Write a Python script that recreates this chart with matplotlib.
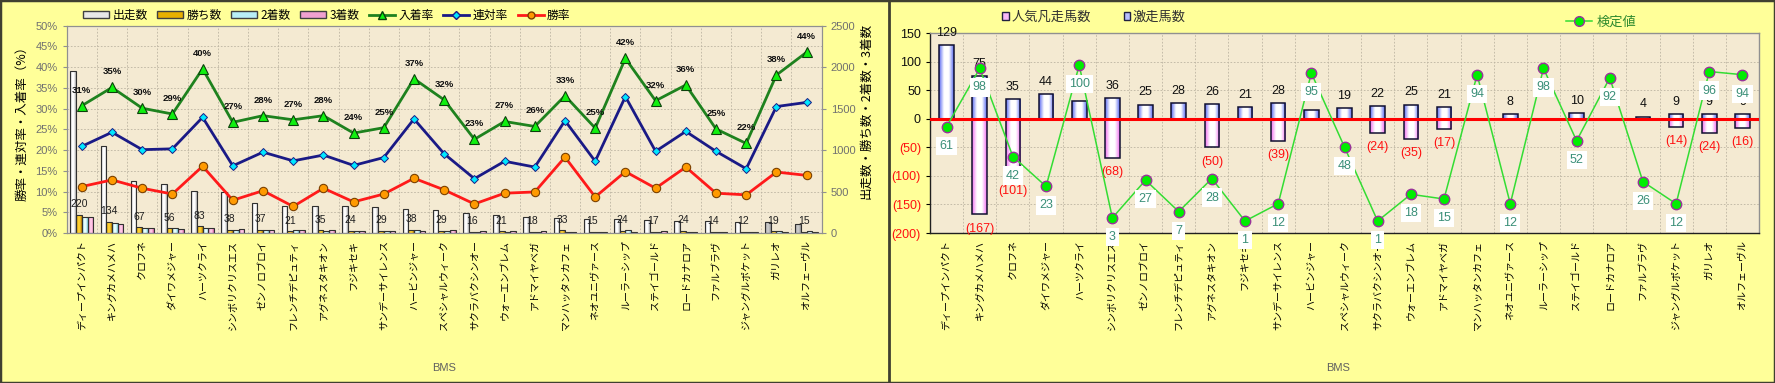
import numpy as np
import matplotlib
matplotlib.use('Agg')
import matplotlib.pyplot as plt
from matplotlib.lines import Line2D
from matplotlib.patches import Patch, Rectangle
from matplotlib.colors import LinearSegmentedColormap

plt.rcParams['font.family'] = ['Noto Sans CJK JP', 'DejaVu Sans']

# ---------------- data ----------------
sires = ['ディープインパクト', 'キングカメハメハ', 'クロフネ', 'ダイワメジャー', 'ハーツクライ',
         'シンボリクリスエス', 'ゼンノロブロイ', 'フレンチデピュティ', 'アグネスタキオン', 'フジキセキ',
         'サンデーサイレンス', 'ハービンジャー', 'スペシャルウィーク', 'サクラバクシンオー', 'ウォーエンブレム',
         'アドマイヤベガ', 'マンハッタンカフェ', 'ネオユニヴァース', 'ルーラーシップ', 'ステイゴールド',
         'ロードカナロア', 'ファルブラヴ', 'ジャングルポケット', 'ガリレオ', 'オルフェーヴル']

runs = [1950, 1055, 622, 594, 510, 490, 361, 325, 325, 325, 309, 289, 277, 241, 221,
        193, 180, 173, 165, 160, 150, 150, 128, 129, 108]
wins = [220, 134, 67, 56, 83, 38, 37, 21, 35, 24, 29, 38, 29, 16, 21,
        18, 33, 15, 24, 17, 24, 14, 12, 19, 15]
seconds = [189, 121, 58, 65, 59, 41, 34, 35, 26, 29, 27, 42, 24, 16, 17,
           13, 16, 15, 31, 15, 13, 16, 8, 20, 19]
thirds = [191, 114, 62, 50, 60, 51, 32, 32, 31, 25, 22, 28, 36, 23, 21,
          19, 11, 14, 15, 20, 17, 8, 8, 10, 13]
place_rate = [30.7, 35.1, 30.1, 28.7, 39.6, 26.7, 28.3, 27.3, 28.3, 24.1, 25.4, 37.2, 32.1,
              22.6, 26.9, 25.7, 33.1, 25.3, 42.1, 31.9, 35.7, 25.1, 21.6, 38.1, 43.6]
quinella_rate = [20.9, 24.3, 20.1, 20.3, 27.9, 16.2, 19.5, 17.4, 18.8, 16.3, 18.2, 27.5, 19.1,
                 13.1, 17.3, 15.9, 27.1, 17.3, 32.9, 19.7, 24.5, 19.7, 15.5, 30.5, 31.5]
win_rate = [11.2, 12.8, 10.8, 9.4, 16.1, 7.9, 10.2, 6.4, 10.8, 7.5, 9.4, 13.2, 10.4,
            7.0, 9.6, 9.9, 18.3, 8.7, 14.8, 10.8, 15.9, 9.6, 9.2, 14.7, 13.9]

gekiso = [129, 75, 35, 44, 31, 36, 25, 28, 26, 21, 28, 16, 19, 22, 25, 21, 0, 8, 0, 10, 0, 4, 9, 9, 9]
bonso = [0, 167, 101, 0, 0, 68, 0, 0, 50, 0, 39, 0, 0, 24, 35, 17, 0, 0, 0, 0, 0, 0, 14, 24, 16]
kentei = [61, 98, 42, 23, 100, 3, 27, 7, 28, 1, 12, 95, 48, 1, 18, 15, 94, 12, 98, 52, 92, 26, 12, 96, 94]

# ---------------- helpers ----------------
def grad_fill(ax, bars, edge, mid, zorder=1.9):
    cmap = LinearSegmentedColormap.from_list('g', [edge, mid, mid, edge], N=128)
    grad = np.linspace(0, 1, 64).reshape(1, -1)
    for b in bars:
        x0, y0 = b.get_x(), b.get_y()
        wd, h = b.get_width(), b.get_height()
        if h == 0:
            continue
        im = ax.imshow(grad, extent=[x0, x0 + wd, min(y0, y0 + h), max(y0, y0 + h)],
                       aspect='auto', cmap=cmap, zorder=zorder, interpolation='bilinear')
        im.set_clip_path(b)

BG = '#FFFF99'
PLOT_BG = '#F4EAD2'
GRID = dict(ls=(0, (2, 2)), color='#bdb5a2', lw=0.6)
NUMF = 'Liberation Sans'

fig = plt.figure(figsize=(17.75, 3.83), dpi=100)
fig.patch.set_facecolor(BG)

x = np.arange(len(sires))

# ================= LEFT CHART =================
axL = fig.add_axes([66.7 / 1775, 1 - 233 / 383, 755 / 1775, (233 - 25.7) / 383])
axL.set_facecolor(PLOT_BG)
w = 0.19
offs = [-1.5 * w, -0.5 * w, 0.5 * w, 1.5 * w]
b_runs = axL.bar(x + offs[0], runs, w, facecolor='none', edgecolor='#303030', lw=0.8, zorder=2)
b_wins = axL.bar(x + offs[1], wins, w, facecolor='none', edgecolor='#303030', lw=0.8, zorder=2)
b_sec = axL.bar(x + offs[2], seconds, w, facecolor='none', edgecolor='#303030', lw=0.8, zorder=2)
b_thi = axL.bar(x + offs[3], thirds, w, facecolor='none', edgecolor='#303030', lw=0.8, zorder=2)
grad_fill(axL, list(b_runs)[:-2], '#a8a8a8', '#ffffff')
grad_fill(axL, list(b_runs)[-2:], '#909090', '#c8c8c8')
grad_fill(axL, b_wins, '#b07800', '#ffd030')
grad_fill(axL, b_sec, '#70c8d8', '#e8ffff')
grad_fill(axL, b_thi, '#d05898', '#ffc8e8')

for i, v in enumerate(wins):
    axL.annotate(str(v), (x[i] + offs[1], v), xytext=(0, 4), textcoords='offset points',
                 ha='center', va='bottom', fontsize=7.5, family=NUMF, color='#202020', zorder=5)

axL.set_xlim(-0.5, len(sires) - 0.5)
axL.set_ylim(0, 2500)
axL.set_axisbelow(True)
axL.set_xticks(x)
axL.set_xticklabels(sires, rotation=90, fontsize=7.2)
axL.set_xticks(np.arange(-0.5, len(sires), 1), minor=True)
axL.tick_params(axis='x', which='both', length=0, pad=5)
axL.grid(which='minor', axis='x', **GRID)

axR2 = axL.twinx()
axL.yaxis.tick_right()
axL.set_yticks(np.arange(0, 2501, 500))
axL.set_yticks(np.arange(0, 2501, 250), minor=True)
axL.grid(which='both', axis='y', **GRID)
axL.tick_params(axis='y', which='major', labelsize=8, labelcolor='#707070', length=3, color='#909090')
axL.tick_params(axis='y', which='minor', length=0)
for t in axL.get_yticklabels():
    t.set_family(NUMF)

axR2.yaxis.tick_left()
axR2.set_ylim(0, 50)
axR2.set_yticks(np.arange(0, 51, 5))
axR2.set_yticklabels([f'{v}%' for v in range(0, 51, 5)])
axR2.tick_params(axis='y', labelsize=8, labelcolor='#707070', length=3, color='#909090')
for t in axR2.get_yticklabels():
    t.set_family(NUMF)

axR2.plot(x, win_rate, color='#ff1a1a', lw=2, marker='o', ms=6, mfc='#ff9a00', mec='#7a4000', mew=0.8, zorder=3)
axR2.plot(x, quinella_rate, color='#1a1a86', lw=2, marker='D', ms=4.5, mfc='#00e8ff', mec='#1a1a86', mew=0.7, zorder=3)
axR2.plot(x, place_rate, color='#1e821e', lw=2, marker='^', ms=7.5, mfc='#10f010', mec='#0c400c', mew=0.8, zorder=3)
for i, v in enumerate(place_rate):
    axR2.annotate(f'{round(v)}%', (x[i], v), xytext=(0, 8), textcoords='offset points',
                  ha='center', va='bottom', fontsize=6.8, family=NUMF, fontweight='bold', color='#101010')

for a in (axL, axR2):
    for s in a.spines.values():
        s.set_color('#909090')
        s.set_linewidth(0.8)

fig.text(22 / 1775, 1 - 120 / 383, '勝率・連対率・入着率（%）', rotation=90, ha='center', va='center', fontsize=9)
fig.text(866 / 1775, 1 - 110.5 / 383, '出走数・勝ち数・2着数・3着数', rotation=90, ha='center', va='center', fontsize=9)
fig.text(444 / 1775, 1 - 368 / 383, 'BMS', ha='center', va='center', fontsize=8, family=NUMF, color='#606060')

hL = [Patch(fc='#e8e8e8', ec='#404040'), Patch(fc='#e8b000', ec='#404040'),
      Patch(fc='#b8eef6', ec='#404040'), Patch(fc='#f0a0d0', ec='#404040'),
      Line2D([], [], color='#1e821e', lw=2, marker='^', ms=6, mfc='#10f010', mec='#0c400c'),
      Line2D([], [], color='#1a1a86', lw=2, marker='D', ms=4, mfc='#00e8ff', mec='#1a1a86'),
      Line2D([], [], color='#ff1a1a', lw=2, marker='o', ms=5, mfc='#ff9a00', mec='#7a4000')]
lL = ['出走数', '勝ち数', '2着数', '3着数', '入着率', '連対率', '勝率']
fig.legend(hL, lL, loc='center', bbox_to_anchor=(0.184, 1 - 15 / 383), ncol=7, frameon=False,
           fontsize=8.5, handlelength=2.2, handleheight=0.6, handletextpad=0.3, columnspacing=0.8,
           borderpad=0, borderaxespad=0)

# ================= RIGHT CHART =================
axB = fig.add_axes([930 / 1775, 1 - 233 / 383, 829 / 1775, (233 - 33.3) / 383])
axB.set_facecolor(PLOT_BG)
bw = 0.44
b_pos = axB.bar(x, gekiso, bw, facecolor='none', edgecolor='#101030', lw=1.1, zorder=2)
b_neg = axB.bar(x, -np.array(bonso), bw, facecolor='none', edgecolor='#101030', lw=1.1, zorder=2)
grad_fill(axB, b_pos, '#5a6af0', '#ffffff')
grad_fill(axB, b_neg, '#f070f0', '#ffffff')
axB.axhline(0, color='#ff0000', lw=2.2, zorder=4)

for i, v in enumerate(gekiso):
    if v > 0:
        axB.annotate(str(v), (x[i], v), xytext=(0, 4.5), textcoords='offset points',
                     ha='center', va='bottom', fontsize=9, family=NUMF, color='#101010', zorder=5)
for i, v in enumerate(bonso):
    if v > 0:
        axB.annotate(f'({v})', (x[i], -v), xytext=(0, -6), textcoords='offset points',
                     ha='center', va='top', fontsize=9, family=NUMF, color='#ff1010', zorder=5)

axB.set_xlim(-0.5, len(sires) - 0.5)
axB.set_ylim(-200, 150)
axB.set_axisbelow(True)
axB.set_xticks(x)
axB.set_xticklabels(sires, rotation=90, fontsize=7.2)
axB.set_xticks(np.arange(-0.5, len(sires), 1), minor=True)
axB.tick_params(axis='x', which='both', length=0, pad=5)
axB.grid(which='minor', axis='x', **GRID)
yt = np.arange(-200, 151, 50)
axB.set_yticks(yt)
axB.set_yticklabels([f'({-v})' if v < 0 else str(v) for v in yt])
axB.tick_params(axis='y', labelsize=9, length=3)
for t, v in zip(axB.get_yticklabels(), yt):
    t.set_family(NUMF)
    t.set_color('#ff1010' if v < 0 else '#101010')
axB.grid(which='major', axis='y', **GRID)
for k, s in axB.spines.items():
    s.set_color('#202020' if k in ('left', 'bottom') else '#909090')
    s.set_linewidth(1.0)

axK = axB.twinx()
axB.yaxis.tick_left()
axK.set_ylim(-6.6, 120.3)
axK.axis('off')
axK.plot(x, kentei, color='#33dd33', lw=1.1, marker='o', ms=7.5, mfc='#00ee00', mec='#993399', mew=1.0, zorder=3)
for i, v in enumerate(kentei):
    axK.annotate(str(v), (x[i], v), xytext=(0, -13.7), textcoords='offset points',
                 ha='center', va='center', fontsize=9, family=NUMF, color='#3a8f78', zorder=6,
                 bbox=dict(boxstyle='square,pad=0.25', fc='white', ec='none'))

fig.text(1338 / 1775, 1 - 368 / 383, 'BMS', ha='center', va='center', fontsize=8, family=NUMF, color='#606060')

fig.legend([Patch(fc='#f8b8f8', ec='#202040'), Patch(fc='#b8c0ff', ec='#202040')],
           ['人気凡走馬数', '激走馬数'], loc='center', bbox_to_anchor=(0.6163, 1 - 17 / 383), ncol=2,
           frameon=False, fontsize=9.5, handlelength=0.5, handleheight=0.5, handletextpad=0.2,
           columnspacing=2.5, borderpad=0, borderaxespad=0, labelcolor='#303030')
fig.legend([Line2D([], [], color='#33dd33', lw=1.1, marker='o', ms=7, mfc='#00ee00', mec='#993399')],
           ['検定値'], loc='center', bbox_to_anchor=(1601 / 1775, 1 - 22 / 383), frameon=False,
           fontsize=9.5, handlelength=2.0, handletextpad=0.3, borderpad=0, borderaxespad=0,
           labelcolor='#2e8a2e')

# panel borders
fig.add_artist(Rectangle((0, 0), 1, 1, transform=fig.transFigure, fill=False, ec='#404030', lw=2.5))
fig.add_artist(Line2D([889 / 1775] * 2, [0, 1], transform=fig.transFigure, color='#404030', lw=2))

fig.savefig('out.png', dpi=100, facecolor=BG)
